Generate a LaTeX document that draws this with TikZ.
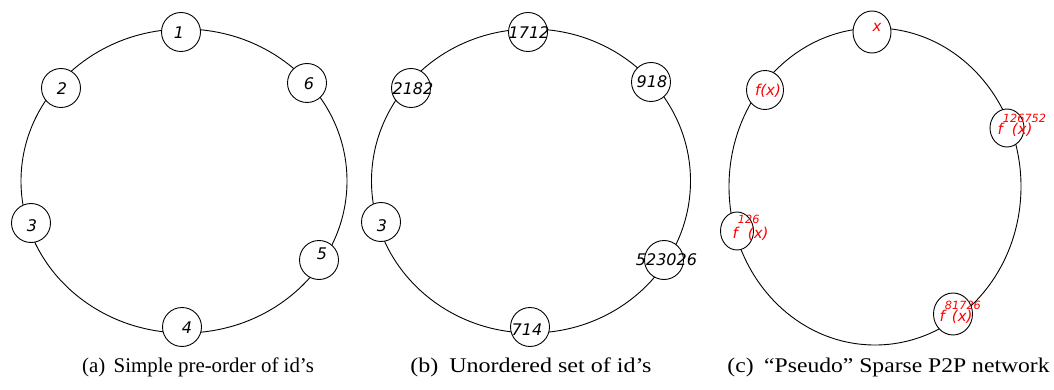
\documentclass[tikz,border=0pt]{standalone}
\usepackage{graphicx}
\usepackage{fontspec}
\setmainfont{Liberation Serif}
\newfontfamily\djv{DejaVu Sans}
\usetikzlibrary{shapes.geometric}
\definecolor{nred}{RGB}{255,0,0}
\newcommand\fpow[3]{f\rlap{\raisebox{#2pt}{\fontsize{11.3}{12}\selectfont #1}}\hspace{#3pt}(x)}
\begin{document}
\begin{tikzpicture}[x=1pt,y=-1pt,
  ring/.style={draw,ellipse,inner sep=0pt,line width=0.9pt},
  idnode/.style={draw,circle,fill=white,inner sep=0pt,minimum size=39pt,line width=0.9pt},
  pnode/.style={draw,ellipse,fill=white,inner sep=0pt,line width=0.9pt},
  idtext/.style={inner sep=0pt,font=\djv\itshape\fontsize{16}{16}\selectfont},
  ptext/.style={inner sep=0pt,text=nred,font=\djv\itshape\fontsize{15}{15}\selectfont},
  captext/.style={inner sep=0pt,anchor=base,font=\fontsize{20.9}{23}\selectfont}]
\useasboundingbox (0,0) rectangle (1054,390);
% (a)
\node[ring,minimum width=326pt,minimum height=304pt] (ringa) at (184,181) {};
\node[idnode] (a1) at (181,32) {};
\node[idnode] (a2) at (61,88) {};
\node[idnode] (a6) at (307,83) {};
\node[idnode] (a3) at (31,223) {};
\node[idnode] (a5) at (319,260) {};
\node[idnode] (a4) at (182,327) {};
\node[idtext] (ta1) at (179,33) {1};
\node[idtext] (ta2) at (62,89) {2};
\node[idtext] (ta6) at (309,84) {6};
\node[idtext] (ta3) at (32,226) {3};
\node[idtext] (ta5) at (322,254) {5};
\node[idtext] (ta4) at (187,328) {4};
\node[captext] (capa) at (198,372) {(a)\hspace{0.4em}Simple pre-order of id’s};
% (b)
\node[ring,minimum width=319pt,minimum height=304pt] (ringb) at (531,181) {};
\node[idnode] (b1) at (528,32) {};
\node[idnode] (b2) at (411,88) {};
\node[idnode] (b3) at (651,82) {};
\node[idnode] (b4) at (381,222) {};
\node[idnode] (b5) at (664,260) {};
\node[idnode] (b6) at (530,327) {};
\node[idtext] (tb1) at (529,33) {1712};
\node[idtext] (tb2) at (413,89) {2182};
\node[idtext] (tb3) at (652,82) {918};
\node[idtext] (tb4) at (382,226) {3};
\node[idtext] (tb5) at (666.5,260) {523026};
\node[idtext] (tb6) at (527,330) {714};
\node[captext] (capb) at (531,372) {\scalebox{1.15}[1]{(b)\hspace{0.45em}Unordered set of id’s}};
% (c)
\node[ring,minimum width=292pt,minimum height=317pt] (ringc) at (875,186.5) {};
\node[pnode,minimum width=38pt,minimum height=42pt] (c1) at (872,32) {};
\node[pnode,minimum width=37pt,minimum height=39pt] (c2) at (765,90) {};
\node[pnode,minimum width=34pt,minimum height=38pt] (c3) at (1007,128) {};
\node[pnode,minimum width=33pt,minimum height=38pt] (c4) at (737,231) {};
\node[pnode,minimum width=39pt,minimum height=42pt] (c5) at (953,314) {};
\node[ptext] (tc1) at (877,27.5) {x};
\node[ptext] (tc2) at (768,91) {f(x)};
\node[ptext,anchor=base west] (tc3) at (997.5,135) {\fpow{126752}{12}{9}};
\node[ptext,anchor=base west] (tc4) at (732.5,238) {\fpow{126}{15}{10}};
\node[ptext,anchor=base west] (tc5) at (939.5,321) {\fpow{81726}{12}{7}};
\node[captext] (capc) at (888.5,372) {\scalebox{1.13}[1]{(c)\hspace{0.45em}“Pseudo” Sparse P2P network}};
\end{tikzpicture}
\end{document}
